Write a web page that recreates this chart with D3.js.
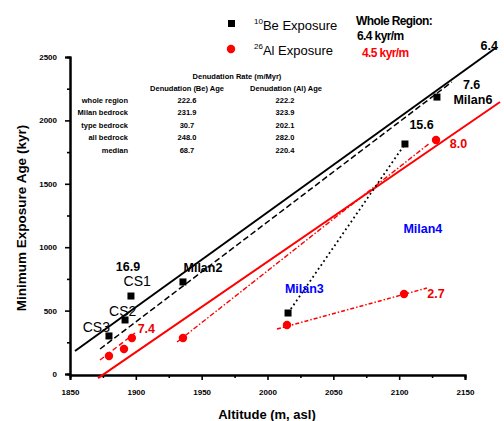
<!DOCTYPE html>
<html>
<head>
<meta charset="utf-8">
<script src="https://cdn.jsdelivr.net/npm/d3@7"></script>
<style>
  body { margin: 0; background: #fff; }
  svg { font-family: Arial, "Liberation Sans", sans-serif; }
</style>
</head>
<body>
<div class="chart"></div>
<script>
// chart size
let svgWidth = 504;
let svgHeight = 421;

// ---- data ----
// 10Be exposure ages [altitude m, age kyr]
let bePoints = [
  [1879.6, 300], [1891.8, 426], [1896.3, 615], [1935.8, 726],
  [2015.6, 481], [2104.4, 1814], [2128.7, 2184]
];
// 26Al exposure ages
let alPoints = [
  [1879.6, 142], [1891.0, 197], [1897.0, 284], [1935.8, 284],
  [2014.8, 386], [2103.7, 631], [2128.0, 1845]
];
// fitted lines (end points)
let beFitAll = [[1853.8, 181], [2174.3, 2579]];
let beFitSub = [[1872.8, 197], [2140.0, 2303]];
let alFitAll = [[1871.3, -32], [2176.6, 2145]];
let alFitSub = [[1931.3, 252], [2123.4, 1822]];
let alFitCS = [[1872.8, 110], [1899.4, 323]];
let beMilan34 = [[2015.6, 481], [2104.4, 1814]];
let alMilan34 = [[2007.2, 355], [2121.1, 678]];

let xTicks = [1850, 1900, 1950, 2000, 2050, 2100, 2150];
let xMinor = [1875, 1925, 1975, 2025, 2075, 2125];
let yTicks = [0, 500, 1000, 1500, 2000, 2500];
let yMinor = [250, 750, 1250, 1750, 2250];

// site labels [altitude, age, text, color]
let siteLabels = [
  [1894, 850, "16.9", "#000"],
  [1901, 730, "CS1", "#000"],
  [1890, 500, "CS2", "#000"],
  [1870, 370, "CS3", "#000"],
  [1951, 835, "Milan2", "#000"],
  [1908, 360, "7.4", "#e00"],
  [2028, 670, "Milan3", "#00f"],
  [2118, 1150, "Milan4", "#00f"],
  [2128, 636, "2.7", "#e00"],
  [2117, 1968, "15.6", "#000"],
  [2145, 1820, "8.0", "#e00"],
  [2155, 2285, "7.6", "#000"],
  [2156, 2160, "Milan6", "#000"]
];
let edgeLabel = [2175, 2590, "6.4"];

// table of denudation rates
let tableTitle = "Denudation Rate (m/Myr)";
let tableCols = ["Denudation (Be) Age", "Denudation (Al) Age"];
let tableRows = ["whole region", "Milan bedrock", "type bedrock", "all bedrock", "median"];
let tableCol1 = ["222.6", "231.9", "30.7", "248.0", "68.7"];
let tableCol2 = ["222.2", "323.9", "202.1", "282.0", "220.4"];

let svg = d3.select(".chart").append("svg")
  .attr("width", svgWidth)
  .attr("height", svgHeight);

let x = d3.scaleLinear().domain([1850, 2150]).range([70, 465]);
let y = d3.scaleLinear().domain([0, 2500]).range([374, 57]);

// axes
svg.append("g")
  .attr("transform", "translate(0,375)")
  .call(d3.axisBottom(x).tickValues(xTicks).tickSize(5).tickPadding(9).tickFormat(d3.format("d")));
svg.append("g")
  .attr("transform", "translate(0,375)")
  .call(d3.axisBottom(x).tickValues(xMinor).tickSize(3).tickFormat(""));
svg.append("g")
  .attr("transform", "translate(70,0)")
  .call(d3.axisLeft(y).tickValues(yTicks).tickSize(5).tickPadding(8).tickFormat(d3.format("d")));
svg.append("g")
  .attr("transform", "translate(70,0)")
  .call(d3.axisLeft(y).tickValues(yMinor).tickSize(3).tickFormat(""));

svg.selectAll(".domain").attr("stroke-width", 2).attr("stroke", "#000");
svg.selectAll(".tick line").attr("stroke-width", 1.6);
svg.selectAll(".tick text")
  .attr("font-size", 8)
  .attr("font-weight", "bold")
  .attr("fill", "#000");

// axis titles
svg.append("text")
  .attr("x", 267).attr("y", 419)
  .attr("text-anchor", "middle")
  .attr("font-size", 13)
  .attr("font-weight", "bold")
  .text("Altitude (m, asl)");
svg.append("text")
  .attr("transform", "translate(26,218) rotate(-90)")
  .attr("text-anchor", "middle")
  .attr("font-size", 13.5)
  .attr("font-weight", "bold")
  .text("Minimum Exposure Age (kyr)");

// lines
let line = d3.line().x(d => x(d[0])).y(d => y(d[1]));
function drawLine(data, color, width, dash) {
  svg.append("path")
    .attr("d", line(data))
    .attr("fill", "none")
    .attr("stroke", color)
    .attr("stroke-width", width)
    .attr("stroke-dasharray", dash);
}
drawLine(beFitAll, "#000", 2, null);
drawLine(beFitSub, "#000", 1.5, "6,3");
drawLine(alFitAll, "#f00", 2, null);
drawLine(alFitSub, "#f00", 1.4, "5,2,1.5,2");
drawLine(alFitCS, "#f00", 1.4, "5,3");
drawLine(beMilan34, "#000", 1.8, "1.8,3");
drawLine(alMilan34, "#f00", 1.5, "4,2,1.5,2");

// points
svg.selectAll(".be").data(bePoints).enter().append("rect")
  .attr("x", d => x(d[0]) - 3.5)
  .attr("y", d => y(d[1]) - 3.5)
  .attr("width", 7).attr("height", 7)
  .attr("fill", "#000");
svg.selectAll(".al").data(alPoints).enter().append("circle")
  .attr("cx", d => x(d[0]))
  .attr("cy", d => y(d[1]))
  .attr("r", 4.2)
  .attr("fill", "#f00");

// site labels
svg.selectAll(".site").data(siteLabels).enter().append("text")
  .attr("x", d => x(d[0]))
  .attr("y", d => y(d[1]))
  .attr("text-anchor", "middle")
  .attr("dy", "0.35em")
  .attr("font-size", d => d[2].startsWith("CS") ? 14 : 12.5)
  .attr("font-weight", d => d[2].startsWith("CS") ? "normal" : "bold")
  .attr("fill", d => d[3])
  .text(d => d[2]);

// label at the right edge, kept inside the window
svg.append("text")
  .attr("x", Math.min(x(edgeLabel[0]), 503))
  .attr("y", y(edgeLabel[1]))
  .attr("text-anchor", "end")
  .attr("dy", "0.35em")
  .attr("font-size", 12.5)
  .attr("font-weight", "bold")
  .text(edgeLabel[2]);

// legend
svg.append("rect").attr("x", 228).attr("y", 20).attr("width", 7).attr("height", 7).attr("fill", "#000");
svg.append("circle").attr("cx", 231).attr("cy", 49).attr("r", 4.2).attr("fill", "#f00");
let leg1 = svg.append("text").attr("x", 254).attr("y", 30).attr("font-size", 13);
leg1.append("tspan").attr("font-size", 8).attr("dy", -6).text("10");
leg1.append("tspan").attr("dy", 6).text("Be Exposure");
let leg2 = svg.append("text").attr("x", 254).attr("y", 55).attr("font-size", 13);
leg2.append("tspan").attr("font-size", 8).attr("dy", -6).text("26");
leg2.append("tspan").attr("dy", 6).text("Al  Exposure");

svg.append("text").attr("x", 356).attr("y", 25)
  .attr("font-size", 12).attr("font-weight", "bold").attr("letter-spacing", -0.6)
  .text("Whole Region:");
svg.append("text").attr("x", 357).attr("y", 40)
  .attr("font-size", 12).attr("font-weight", "bold").attr("letter-spacing", -0.6)
  .text("6.4 kyr/m");
svg.append("text").attr("x", 362).attr("y", 57)
  .attr("font-size", 12).attr("font-weight", "bold").attr("letter-spacing", -0.6)
  .attr("fill", "#f00")
  .text("4.5 kyr/m");

// table
let table = svg.append("g").attr("font-size", 7.5).attr("font-weight", "bold");
table.append("text").attr("x", 237).attr("y", 79).attr("text-anchor", "middle").text(tableTitle);
table.append("text").attr("x", 187).attr("y", 91).attr("text-anchor", "middle").text(tableCols[0]);
table.append("text").attr("x", 286).attr("y", 91).attr("text-anchor", "middle").text(tableCols[1]);
tableRows.forEach(function(r, i) {
  let ty = 103 + i * 12.4;
  table.append("text").attr("x", 128).attr("y", ty).attr("text-anchor", "end").text(r);
  table.append("text").attr("x", 187).attr("y", ty).attr("text-anchor", "middle").text(tableCol1[i]);
  table.append("text").attr("x", 285).attr("y", ty).attr("text-anchor", "middle").text(tableCol2[i]);
});
</script>
</body>
</html>
